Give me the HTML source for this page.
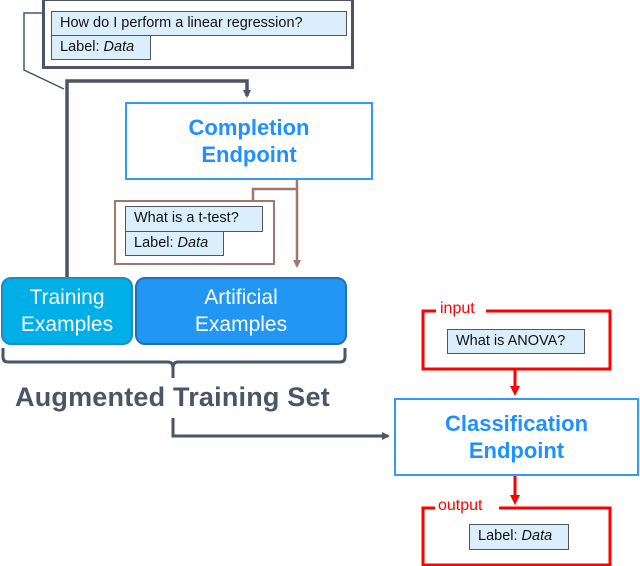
<!DOCTYPE html>
<html><head><style>
body{margin:0;width:640px;height:566px;background:#fff;position:relative;overflow:hidden;font-family:"Liberation Sans",Arial,sans-serif}
.a{position:absolute;box-sizing:border-box}
.cell{background:#dbeefc;border:1.5px solid #555;font-size:14.5px;color:#111;line-height:23px;padding-left:8px;white-space:nowrap}
.t{display:flex;align-items:center;justify-content:center;text-align:center}
</style></head><body>
<svg class="a" style="left:0;top:0" width="640" height="566">
<defs>
<marker id="g" markerWidth="8" markerHeight="8" refX="6" refY="4" orient="auto" markerUnits="userSpaceOnUse"><path d="M0,0 L8,4 L0,8z" fill="#4a5568"/></marker>
<marker id="b" markerWidth="8" markerHeight="8" refX="6" refY="4" orient="auto" markerUnits="userSpaceOnUse"><path d="M0,0 L8,4 L0,8z" fill="#a0776b"/></marker>
<marker id="r" markerWidth="10" markerHeight="10" refX="7" refY="5" orient="auto" markerUnits="userSpaceOnUse"><path d="M0,0 L10,5 L0,10z" fill="#f00"/></marker>
</defs>
<polyline points="42,13 24,13 24,70 64,89" fill="none" stroke="#4a5568" stroke-width="1.5"/>
<polyline points="67,277 67,81 247,81 247,96" fill="none" stroke="#4a5568" stroke-width="3.5" marker-end="url(#g)"/>
<polyline points="297,180 297,266" fill="none" stroke="#a0776b" stroke-width="2.5" marker-end="url(#b)"/>
<polyline points="297,189 253,189 253,200" fill="none" stroke="#a0776b" stroke-width="2.5"/>
<path d="M3,348 L3,357 Q3,362 8,362 L168,362 Q173,362 173,368 L173,378 M173,368 Q173,362 178,362 L340,362 Q345,362 345,357 L345,348" fill="none" stroke="#4a5568" stroke-width="3"/>
<polyline points="173,418 173,436 388,436" fill="none" stroke="#4a5568" stroke-width="3" marker-end="url(#g)"/>
<line x1="515" y1="369" x2="515" y2="393" stroke="#f00" stroke-width="3" marker-end="url(#r)"/>
<line x1="515" y1="476" x2="515" y2="502" stroke="#f00" stroke-width="3" marker-end="url(#r)"/>
<path d="M436,311 L423,311 L423,369 L610,369 L610,311 L486,311" fill="none" stroke="#f00" stroke-width="3"/>
<path d="M436,508 L423,508 L423,565 L610,565 L610,508 L499,508" fill="none" stroke="#f00" stroke-width="3"/>
</svg>
<div class="a" style="left:42px;top:-2px;width:312px;height:71px;border:3px solid #4a5568;background:#fff"></div>
<div class="a cell" style="left:51px;top:11px;width:296px;height:25px">How do I perform a linear regression?</div>
<div class="a cell" style="left:51px;top:35px;width:100px;height:25px">Label: <i>Data</i></div>
<div class="a t" style="left:125px;top:102px;width:248px;height:78px;border:2px solid #3399ff;background:#fff;color:#1e90ff;font-weight:bold;font-size:22px;line-height:27px">Completion<br>Endpoint</div>
<div class="a" style="left:114px;top:200px;width:161px;height:65px;border:2.5px solid #a0776b;background:#fff"></div>
<div class="a cell" style="left:125px;top:206px;width:138px;height:26px">What is a t-test?</div>
<div class="a cell" style="left:125px;top:231px;width:99px;height:25px">Label: <i>Data</i></div>
<div class="a t" style="left:1px;top:277px;width:132px;height:68px;background:#00aee8;border:2px solid #1a8fbf;border-radius:10px;color:#fff;font-size:21px;line-height:27px">Training<br>Examples</div>
<div class="a t" style="left:135px;top:277px;width:212px;height:68px;background:#2196f3;border:2px solid #1a6fbf;border-radius:10px;color:#fff;font-size:21px;line-height:27px">Artificial<br>Examples</div>
<div class="a" style="left:15px;top:382px;font-size:27px;letter-spacing:0.2px;font-weight:bold;color:#4a5568;white-space:nowrap">Augmented Training Set</div>
<div class="a" style="left:437px;top:300px;font-size:16px;color:#f00;background:#fff;padding:0 3px">input</div>
<div class="a cell" style="left:447px;top:329px;width:138px;height:25px;padding-left:8px">What is ANOVA?</div>
<div class="a t" style="left:394px;top:398px;width:245px;height:78px;border:2px solid #3399ff;background:#fff;color:#1e90ff;font-weight:bold;font-size:22px;line-height:27px">Classification<br>Endpoint</div>
<div class="a" style="left:435px;top:497px;font-size:16px;color:#f00;background:#fff;padding:0 3px">output</div>
<div class="a cell" style="left:469px;top:524px;width:100px;height:26px">Label: <i>Data</i></div>
</body></html>
